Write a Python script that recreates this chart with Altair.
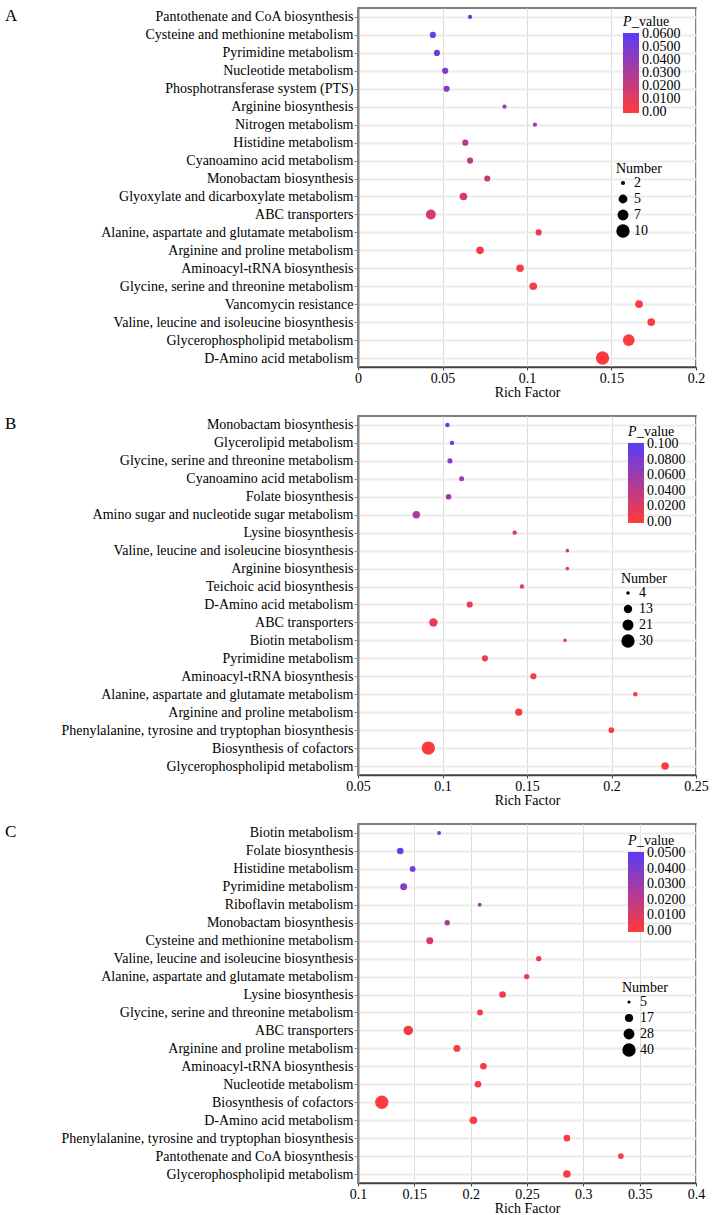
import altair as alt
import pandas as pd

FONT = "Liberation Serif, Times New Roman, DejaVu Serif, serif"
RED = "#FF3B3B"
BLUE = "#5A3CF6"

# ---------------- Panel A ----------------
a_names = [
    "Pantothenate and CoA biosynthesis", "Cysteine and methionine metabolism",
    "Pyrimidine metabolism", "Nucleotide metabolism", "Phosphotransferase system (PTS)",
    "Arginine biosynthesis", "Nitrogen metabolism", "Histidine metabolism",
    "Cyanoamino acid metabolism", "Monobactam biosynthesis",
    "Glyoxylate and dicarboxylate metabolism", "ABC transporters",
    "Alanine, aspartate and glutamate metabolism", "Arginine and proline metabolism",
    "Aminoacyl-tRNA biosynthesis", "Glycine, serine and threonine metabolism",
    "Vancomycin resistance", "Valine, leucine and isoleucine biosynthesis",
    "Glycerophospholipid metabolism", "D-Amino acid metabolism",
]
a_rich = [0.0663, 0.0443, 0.0467, 0.0516, 0.0524, 0.0867, 0.1047, 0.0635, 0.0663, 0.0765,
          0.0624, 0.0431, 0.1069, 0.0722, 0.0959, 0.1037, 0.1663, 0.1735, 0.1602, 0.1447]
a_pval = [0.057, 0.055, 0.052, 0.046, 0.044, 0.040, 0.033, 0.026, 0.024, 0.021,
          0.016, 0.015, 0.008, 0.004, 0.003, 0.003, 0.002, 0.002, 0.0005, 0.0002]
a_num = [2, 3, 3, 3, 3, 2, 2, 3, 3, 3, 4, 6, 3, 4, 4, 4, 4, 4, 8, 10]
a_pticks = [0, 0.01, 0.02, 0.03, 0.04, 0.05, 0.06]
a_xticks = [0, 0.05, 0.1, 0.15, 0.2]
a_sizes = [2, 5, 7, 10]

# ---------------- Panel B ----------------
b_names = [
    "Monobactam biosynthesis", "Glycerolipid metabolism",
    "Glycine, serine and threonine metabolism", "Cyanoamino acid metabolism",
    "Folate biosynthesis", "Amino sugar and nucleotide sugar metabolism",
    "Lysine biosynthesis", "Valine, leucine and isoleucine biosynthesis",
    "Arginine biosynthesis", "Teichoic acid biosynthesis", "D-Amino acid metabolism",
    "ABC transporters", "Biotin metabolism", "Pyrimidine metabolism",
    "Aminoacyl-tRNA biosynthesis", "Alanine, aspartate and glutamate metabolism",
    "Arginine and proline metabolism", "Phenylalanine, tyrosine and tryptophan biosynthesis",
    "Biosynthesis of cofactors", "Glycerophospholipid metabolism",
]
b_rich = [0.1029, 0.1056, 0.1044, 0.1113, 0.1036, 0.0845, 0.1427, 0.1739, 0.1739, 0.1470,
          0.1161, 0.0946, 0.1725, 0.1251, 0.1538, 0.2141, 0.1451, 0.1999, 0.0916, 0.2317]
b_pval = [0.095, 0.090, 0.075, 0.065, 0.058, 0.050, 0.022, 0.020, 0.020, 0.018,
          0.015, 0.012, 0.010, 0.006, 0.005, 0.004, 0.003, 0.002, 0.001, 0.0005]
b_num = [5, 5, 6, 6, 7, 11, 5, 4, 4, 5, 8, 13, 4, 8, 8, 5, 10, 7, 30, 11]
b_pticks = [0, 0.02, 0.04, 0.06, 0.08, 0.1]
b_xticks = [0.05, 0.1, 0.15, 0.2, 0.25]
b_sizes = [4, 13, 21, 30]

# ---------------- Panel C ----------------
c_names = [
    "Biotin metabolism", "Folate biosynthesis", "Histidine metabolism",
    "Pyrimidine metabolism", "Riboflavin metabolism", "Monobactam biosynthesis",
    "Cysteine and methionine metabolism", "Valine, leucine and isoleucine biosynthesis",
    "Alanine, aspartate and glutamate metabolism", "Lysine biosynthesis",
    "Glycine, serine and threonine metabolism", "ABC transporters",
    "Arginine and proline metabolism", "Aminoacyl-tRNA biosynthesis",
    "Nucleotide metabolism", "Biosynthesis of cofactors", "D-Amino acid metabolism",
    "Phenylalanine, tyrosine and tryptophan biosynthesis",
    "Pantothenate and CoA biosynthesis", "Glycerophospholipid metabolism",
]
c_rich = [0.1720, 0.1375, 0.1485, 0.1405, 0.2080, 0.1792, 0.1637, 0.2604, 0.2497, 0.2283,
          0.2083, 0.1446, 0.1878, 0.2113, 0.2065, 0.1211, 0.2024, 0.2854, 0.3333, 0.2854]
c_pval = [0.048, 0.046, 0.043, 0.037, 0.030, 0.025, 0.013, 0.005, 0.004, 0.003,
          0.003, 0.003, 0.002, 0.002, 0.002, 0.0005, 0.0005, 0.0003, 0.0003, 0.0002]
c_num = [6, 12, 10, 13, 6, 9, 13, 9, 9, 12, 10, 22, 13, 12, 12, 40, 15, 12, 10, 15]
c_pticks = [0, 0.01, 0.02, 0.03, 0.04, 0.05]
c_xticks = [0.1, 0.15, 0.2, 0.25, 0.3, 0.35, 0.4]
c_sizes = [5, 17, 28, 40]

PLABEL = "abs(datum.value) < 1e-9 ? '0.00' : format(datum.value, '.3r')"


def panel(letter, names, rich, pval, num, xticks, pticks, svals, srange,
          width, height, cx, cy, sx, sy):
    df = pd.DataFrame({"Pathway": names, "RichFactor": rich, "Pvalue": pval, "Number": num})
    pmax = pticks[-1]
    eps = pmax * 0.012
    pts = alt.Chart(df).mark_circle(opacity=1).encode(
        x=alt.X("RichFactor:Q",
                scale=alt.Scale(domain=[xticks[0], xticks[-1]], nice=False, zero=False),
                axis=alt.Axis(title="Rich Factor", values=xticks, format="~g",
                              labelFlush=False, labelFontSize=14, grid=True,
                              gridColor="#dedede", gridWidth=1,
                              domainColor="#444", domainWidth=1.5,
                              tickColor="#444", tickSize=3, labelPadding=1,
                              titlePadding=0, titleFontSize=14,
                              titleFontWeight="normal")),
        y=alt.Y("Pathway:N", sort=names,
                axis=alt.Axis(title=None, labelFontSize=14, labelLimit=0, grid=True,
                              gridColor="#ebebeb", gridWidth=2,
                              domainColor="#888", domainWidth=2,
                              tickColor="#888", tickSize=4, labelPadding=1)),
        color=alt.Color("Pvalue:Q",
                        scale=alt.Scale(domain=[-eps, pmax + eps], range=[RED, BLUE],
                                        interpolate="rgb", nice=False, zero=False),
                        legend=alt.Legend(title=None, values=pticks,
                                          labelExpr=PLABEL, labelOverlap=False,
                                          orient="none", legendX=cx, legendY=cy + 18,
                                          gradientLength=80, gradientThickness=16,
                                          direction="vertical", labelBaseline="middle",
                                          labelOffset=3)),
        size=alt.Size("Number:Q",
                      scale=alt.Scale(domain=[svals[0], svals[-1]], range=srange, zero=False),
                      legend=alt.Legend(title="Number", values=svals, orient="none",
                                        legendX=sx, legendY=sy, titlePadding=0,
                                        symbolFillColor="black", symbolStrokeWidth=0,
                                        symbolOpacity=1, rowPadding=2)),
    )
    lab = alt.Chart(alt.Data(values=[{"t": letter}])).mark_text(
        align="left", baseline="top", fontSize=17, font=FONT, color="black"
    ).encode(text="t:N", x=alt.value(-353), y=alt.value(0))
    ptxt = alt.Chart(alt.Data(values=[{"t": "P"}])).mark_text(
        align="left", baseline="top", fontSize=14, font=FONT, fontStyle="italic",
        color="black"
    ).encode(text="t:N", x=alt.value(cx), y=alt.value(cy))
    vtxt = alt.Chart(alt.Data(values=[{"t": "_value"}])).mark_text(
        align="left", baseline="top", fontSize=14, font=FONT, color="black"
    ).encode(text="t:N", x=alt.value(cx + 9), y=alt.value(cy))
    return alt.layer(pts, lab, ptxt, vtxt).properties(width=width, height=height)


pA = panel("A", a_names, a_rich, a_pval, a_num, a_xticks, a_pticks, a_sizes, [18, 178],
           338, 359, 265, 7, 258, 154)
pB = panel("B", b_names, b_rich, b_pval, b_num, b_xticks, b_pticks, b_sizes, [13, 177],
           338, 359, 270, 9, 263, 156)
pC = panel("C", c_names, c_rich, c_pval, c_num, c_xticks, c_pticks, c_sizes, [10, 177],
           338, 359, 270, 10, 264, 157)

chart = alt.vconcat(pA, pB, pC, spacing=14).resolve_scale(
    x="independent", y="independent", color="independent", size="independent"
).resolve_legend(color="independent", size="independent").configure(
    font=FONT
).configure_view(
    stroke="#555", strokeWidth=1.5
).configure_axis(
    labelFont=FONT, titleFont=FONT, labelColor="black", titleColor="black"
).configure_legend(
    titleFont=FONT, labelFont=FONT, titleFontSize=14, labelFontSize=14,
    titleFontWeight="normal", titleColor="black", labelColor="black"
).properties(
    padding={"left": 4, "top": 6, "right": 0, "bottom": 0}
)

chart.save("out.html", embed_options={"renderer": "svg", "actions": False})
